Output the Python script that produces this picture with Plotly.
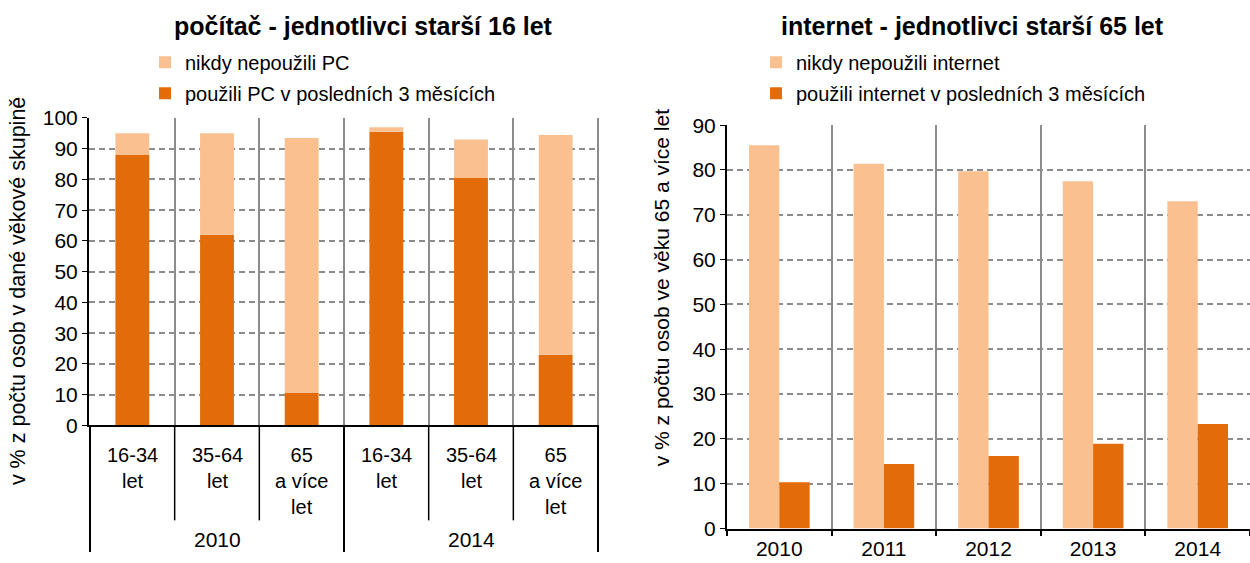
import plotly.graph_objects as go

# ---------------- data ----------------
years_pc = ["2010", "2014"]
age_groups = ["16-34<br>let", "35-64<br>let", "65<br>a více<br>let"]
pc_used_3m = [88, 62, 10.5, 95.5, 80.5, 23]      # použili PC v posledních 3 měsících
pc_never = [7, 33, 83, 1.5, 12.5, 71.5]           # nikdy nepoužili PC

years_inet = ["2010", "2011", "2012", "2013", "2014"]
inet_never = [85.5, 81.4, 79.7, 77.5, 73.0]       # nikdy nepoužili internet
inet_used_3m = [10.3, 14.4, 16.2, 18.9, 23.3]     # použili internet v posledních 3 měsících

pc_ticks = list(range(0, 101, 10))
inet_ticks = list(range(0, 91, 10))

# ---------------- styles ----------------
DARK = "#E36C0A"
LIGHT = "#FAC090"
GRID = "#8C8C8C"
FONT = "Liberation Sans"
W, H = 1250, 563

def py(pix):
    return (H - pix) / H

pc_cats = [f"{y} {g}" for y in years_pc for g in age_groups]

fig = go.Figure()

fig.add_trace(go.Bar(
    x=pc_cats, y=pc_used_3m, name="použili PC v posledních 3 měsících",
    marker=dict(color=DARK, line=dict(width=0)), width=0.4, offset=-0.2,
    xaxis="x", yaxis="y", legend="legend", legendrank=2, legendgroup="a2"))
fig.add_trace(go.Bar(
    x=pc_cats, y=pc_never, base=pc_used_3m, name="nikdy nepoužili PC",
    marker=dict(color=LIGHT, line=dict(width=0)), width=0.4, offset=-0.2,
    xaxis="x", yaxis="y", legend="legend", legendrank=1, legendgroup="a1"))

fig.add_trace(go.Bar(
    x=years_inet, y=inet_never, name="nikdy nepoužili internet",
    marker=dict(color=LIGHT, line=dict(width=0)), width=0.29, offset=-0.29,
    xaxis="x2", yaxis="y2", legend="legend2", legendrank=1, legendgroup="b1"))
fig.add_trace(go.Bar(
    x=years_inet, y=inet_used_3m, name="použili internet v posledních 3 měsících",
    marker=dict(color=DARK, line=dict(width=0)), width=0.29, offset=0,
    xaxis="x2", yaxis="y2", legend="legend2", legendrank=2, legendgroup="b2"))

axis_common = dict(showline=True, linecolor="black", linewidth=2,
                   tickfont=dict(family=FONT, size=21, color="black"))

legend_common = dict(xanchor="left", yanchor="top", traceorder="grouped",
                     tracegroupgap=2,
                     font=dict(family=FONT, size=20, color="black"),
                     bgcolor="rgba(0,0,0,0)", itemclick=False)

fig.update_layout(
    width=W, height=H, margin=dict(l=0, r=0, t=0, b=0),
    paper_bgcolor="white", plot_bgcolor="white",
    barmode="overlay",
    font=dict(family=FONT, color="black"),
    xaxis=dict(domain=[89 / W, 599 / W], type="category", tickson="boundaries",
               showgrid=True, gridcolor=GRID, gridwidth=1.5,
               showticklabels=False, ticks="", showline=True,
               linecolor="black", linewidth=2, fixedrange=True, anchor="y"),
    yaxis=dict(domain=[py(431), py(110.5)], range=[0, 100], tickvals=pc_ticks,
               showgrid=True, gridcolor=GRID, gridwidth=2, griddash="6px,4px",
               ticks="outside", ticklen=5, tickcolor="black", zeroline=False,
               anchor="x", **axis_common),
    xaxis2=dict(domain=[727 / W, 1.0], type="category", tickson="boundaries",
                showgrid=True, gridcolor=GRID, gridwidth=1.5,
                ticks="outside", ticklen=5, tickcolor="black", tickwidth=2,
                ticklabelstandoff=0, anchor="y2", **axis_common),
    yaxis2=dict(domain=[py(538.5), py(118)], range=[0, 90], tickvals=inet_ticks,
                showgrid=True, gridcolor=GRID, gridwidth=2, griddash="6px,4px",
                ticks="outside", ticklen=5, tickcolor="black", zeroline=False,
                anchor="x2", **axis_common),
    legend=dict(x=145 / W, y=py(32), **legend_common),
    legend2=dict(x=756 / W, y=py(32), **legend_common),
    showlegend=True,
)

annotations = []
annotations.append(dict(text="<b>počítač - jednotlivci starší 16 let</b>",
                        x=363 / W, y=py(15), xref="paper", yref="paper",
                        xanchor="center", yanchor="middle",
                        showarrow=False, font=dict(family=FONT, size=25, color="black")))
annotations.append(dict(text="<b>internet - jednotlivci starší 65 let</b>",
                        x=972 / W, y=py(15), xref="paper", yref="paper",
                        xanchor="center", yanchor="middle",
                        showarrow=False, font=dict(family=FONT, size=25, color="black")))
annotations.append(dict(text="v % z počtu osob v dané věkové skupině",
                        x=18 / W, y=py(291), xref="paper", yref="paper", textangle=-90,
                        xanchor="center", yanchor="middle",
                        showarrow=False, font=dict(family=FONT, size=21.5, color="black")))
annotations.append(dict(text="v % z počtu osob ve věku 65 a více let",
                        x=661 / W, y=py(288), xref="paper", yref="paper", textangle=-90,
                        xanchor="center", yanchor="middle",
                        showarrow=False, font=dict(family=FONT, size=21, color="black")))
for i, cat in enumerate(pc_cats):
    g = age_groups[i % len(age_groups)]
    annotations.append(dict(text=g, x=cat, y=py(448), xref="x", yref="paper",
                            xanchor="center", yanchor="top", showarrow=False,
                            font=dict(family=FONT, size=20, color="black")))
for j, yr in enumerate(years_pc):
    mid = pc_cats[j * len(age_groups) + 1]
    annotations.append(dict(text=yr, x=mid, y=py(550), xref="x", yref="paper",
                            xanchor="center", yanchor="middle", showarrow=False,
                            font=dict(family=FONT, size=21, color="black")))
fig.update_layout(annotations=annotations)

shapes = []
n = len(pc_cats)
for b in range(n + 1):
    outer = (b % len(age_groups) == 0)
    shapes.append(dict(type="line", xref="x", yref="paper",
                       x0=b - 0.5, x1=b - 0.5, y0=py(431), y1=py(563) if outer else py(530),
                       line=dict(color="black", width=2 if outer else 1.5)))
fig.update_layout(shapes=shapes)

fig.write_html(
    "out.html",
    config={"displayModeBar": False},
    post_script=(
        "var d=document.getElementById('{plot_id}');"
        "d.style.position='fixed';d.style.top='0px';d.style.left='0px';"
        "document.body.style.margin='0px';"
        "document.documentElement.style.overflow='hidden';"
        "document.body.style.overflow='hidden';"
    ),
)
